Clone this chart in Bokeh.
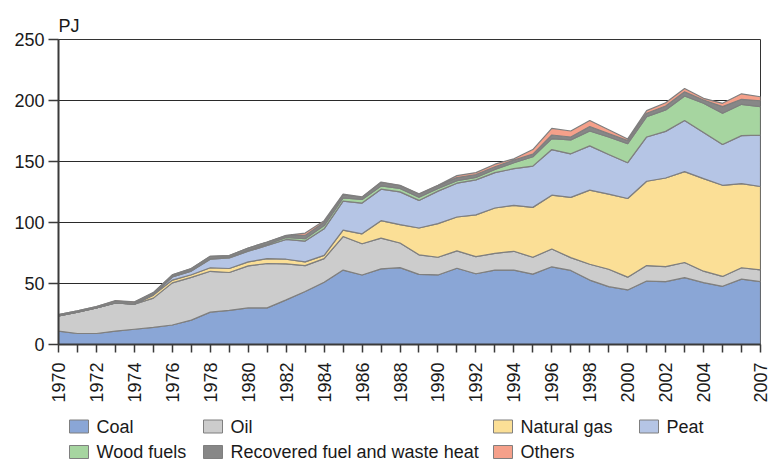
import math
import numpy as np
from bokeh.plotting import figure
from bokeh.layouts import column
from bokeh.models import Range1d, FixedTicker
from bokeh.core.properties import value
from bokeh.embed import file_html
from bokeh.resources import INLINE

years = list(range(1970, 2008))
labeled_years = list(range(1970, 2005, 2)) + [2007]
y_ticks = [0, 50, 100, 150, 200, 250]

coal = [11, 9, 9, 11, 12.5, 14, 16, 20, 26.5, 28,
        30, 30, 36.6, 43.4, 51, 61, 57, 62, 63, 57.5,
        57, 62.5, 58, 61, 61, 57.7, 63.7, 60.7, 52.8, 47.4,
        44.7, 52, 51.5, 54.8, 50.7, 47.7, 53.6, 51.5]
oil = [12.5, 17.5, 21, 23, 20.5, 24, 34.5, 35, 33.5, 31,
       34.5, 36.4, 29.5, 21.3, 19.4, 27.5, 25.6, 25.2, 20.2, 16,
       14.5, 14.2, 14, 13.7, 15.4, 13.8, 14.6, 10.5, 13, 14.3,
       10.5, 12.7, 12.4, 12.4, 9.4, 8.1, 9.3, 9.7]
natural_gas = [0, 0, 0, 0, 0, 2.5, 2.3, 2.2, 2.9, 3.3,
               3.2, 4, 3.8, 3, 2.7, 5.2, 8.1, 14.3, 15.1, 22,
               27.6, 27.8, 34.2, 37.2, 37.7, 40.9, 44.1, 49.4, 60.7, 61.5,
               64.5, 69.1, 72.6, 74.5, 75.9, 74.7, 69, 68.3]
peat = [0, 0, 0, 0, 0, 0.5, 2.5, 3, 7, 8.7,
        8.7, 10.8, 16.2, 17.1, 21.7, 23.8, 25.2, 25.8, 26.8, 22.6,
        26.6, 27.7, 28.7, 29, 30, 33.8, 37.4, 35.7, 36.3, 32.5,
        29.3, 36.3, 38.2, 41.9, 37.8, 33.4, 39.3, 42.2]
wood_fuels = [0, 0, 0, 0, 0, 0, 0.3, 0.3, 0.5, 0.5,
              0.8, 1, 1.6, 1.9, 2.7, 2.7, 3, 2.7, 2.8, 2.7,
              2.2, 2.1, 2.1, 2.6, 4.9, 7.7, 9, 11.4, 12.2, 14.4,
              15.7, 16.7, 17.6, 20.1, 23.9, 25.7, 25.7, 23.3]
recovered = [1, 1, 1, 1.5, 1.5, 1.5, 1.5, 1.7, 1.9, 1.4,
             1.9, 1.8, 1.5, 2.7, 2.7, 2.5, 1.8, 2.8, 2.3, 2.4,
             2.3, 2.5, 2.2, 2.2, 2.1, 2.1, 2.9, 2.4, 3.7, 2.7,
             2.4, 2.8, 3.2, 3.4, 2.7, 5.4, 4.1, 4.8]
others = [0, 0, 0, 0.5, 0.5, 0, 0, 0, 0, 0,
          0, 0, 0.2, 1.9, 1.3, 0.5, 0.3, 0.4, 0.3, 0.3,
          0.3, 1.6, 1.7, 2.1, 1.1, 3.8, 5.4, 4.9, 4.9, 3.2,
          1.4, 2.1, 2.7, 2.8, 1.4, 2.7, 4.5, 3.3]

series_names = ["Coal", "Oil", "Natural gas", "Peat", "Wood fuels",
                "Recovered fuel and waste heat", "Others"]
series_values = [coal, oil, natural_gas, peat, wood_fuels, recovered, others]
colors = ["#8aa6d6", "#cccccc", "#fbdf96", "#b5c5e5", "#a6d5a0", "#878787", "#f5a08a"]

FONT = "Liberation Sans"
TEXT_COLOR = "#1a1a1a"
OUTLINE = "#7f7f7f"
W = 770
B_LEFT, B_RIGHT = 58, 10

p = figure(width=W, height=405, x_range=Range1d(1970, 2007), y_range=Range1d(0, 250),
           output_backend="svg", toolbar_location=None,
           min_border_left=B_LEFT, min_border_right=B_RIGHT, min_border_top=39, min_border_bottom=58)

p.title.text = "PJ"
p.title.text_font = FONT
p.title.text_font_size = "18px"
p.title.text_font_style = "normal"
p.title.text_color = TEXT_COLOR
p.title.align = "left"
p.title.standoff = 7

yrs = np.array(years, dtype=float)
bottom = np.zeros(len(years))
for name, vals, col in zip(series_names, series_values, colors):
    top = bottom + np.array(vals, dtype=float)
    xs = np.concatenate([yrs, yrs[::-1]])
    ys = np.concatenate([top, bottom[::-1]])
    p.patch(xs, ys, fill_color=col, line_color=OUTLINE, line_width=1.2)
    bottom = top

p.xgrid.grid_line_color = None
p.ygrid.grid_line_color = "#2a2a2a"
p.ygrid.grid_line_width = 1
p.outline_line_color = "#333333"
p.outline_line_width = 1

p.yaxis.ticker = FixedTicker(ticks=y_ticks)
p.yaxis.major_label_text_font = FONT
p.yaxis.major_label_text_font_size = "18px"
p.yaxis.major_label_text_color = TEXT_COLOR
p.yaxis.major_tick_out = 10
p.yaxis.major_tick_in = 0
p.yaxis.minor_tick_out = 0
p.yaxis.minor_tick_in = 0
p.yaxis.major_label_standoff = 4
p.yaxis.axis_line_width = 2
p.yaxis.axis_line_color = "#3a3a3a"
p.yaxis.major_tick_line_color = "#3a3a3a"
p.yaxis.major_tick_line_width = 1.5

p.xaxis.ticker = FixedTicker(ticks=years)
p.xaxis.major_label_overrides = {y: (str(y) if y in labeled_years else "") for y in years}
p.xaxis.major_label_orientation = math.pi / 2
p.xaxis.major_label_text_font = FONT
p.xaxis.major_label_text_font_size = "18px"
p.xaxis.major_label_text_color = TEXT_COLOR
p.xaxis.major_tick_out = 8
p.xaxis.major_tick_in = 0
p.xaxis.minor_tick_out = 0
p.xaxis.minor_tick_in = 0
p.xaxis.major_label_standoff = 10
p.xaxis.axis_line_width = 2
p.xaxis.axis_line_color = "#3a3a3a"
p.xaxis.major_tick_line_color = "#3a3a3a"
p.xaxis.major_tick_line_width = 1.5

# legend drawn in its own strip below the chart; x range in page pixels
LEG_H = 56
col_x = [69, 203, 493, 639]
row_y = [21, 46.5]
sw_w, sw_h, gap = 19, 13, 8
lx, ly, tx = [], [], []
for i, name in enumerate(series_names):
    c, r = i % 4, i // 4
    lx.append(col_x[c] + sw_w / 2)
    ly.append(row_y[r])
    tx.append(col_x[c] + sw_w + gap)

leg = figure(width=W, height=LEG_H, x_range=Range1d(B_LEFT, W - B_RIGHT), y_range=Range1d(LEG_H, 0),
             output_backend="svg", toolbar_location=None,
             min_border_left=B_LEFT, min_border_right=B_RIGHT, min_border_top=0, min_border_bottom=0)
leg.axis.visible = False
leg.grid.visible = False
leg.outline_line_color = None
leg.rect(x=lx, y=ly, width=sw_w, height=sw_h, fill_color=colors, line_color=OUTLINE, line_width=1)
leg.text(x=tx, y=ly, text=series_names, text_font=value(FONT), text_font_size="18px",
         text_baseline="middle", text_align="left", text_color=TEXT_COLOR)

layout = column(p, leg, spacing=0)
open("out.html", "w").write(file_html(layout, INLINE))
